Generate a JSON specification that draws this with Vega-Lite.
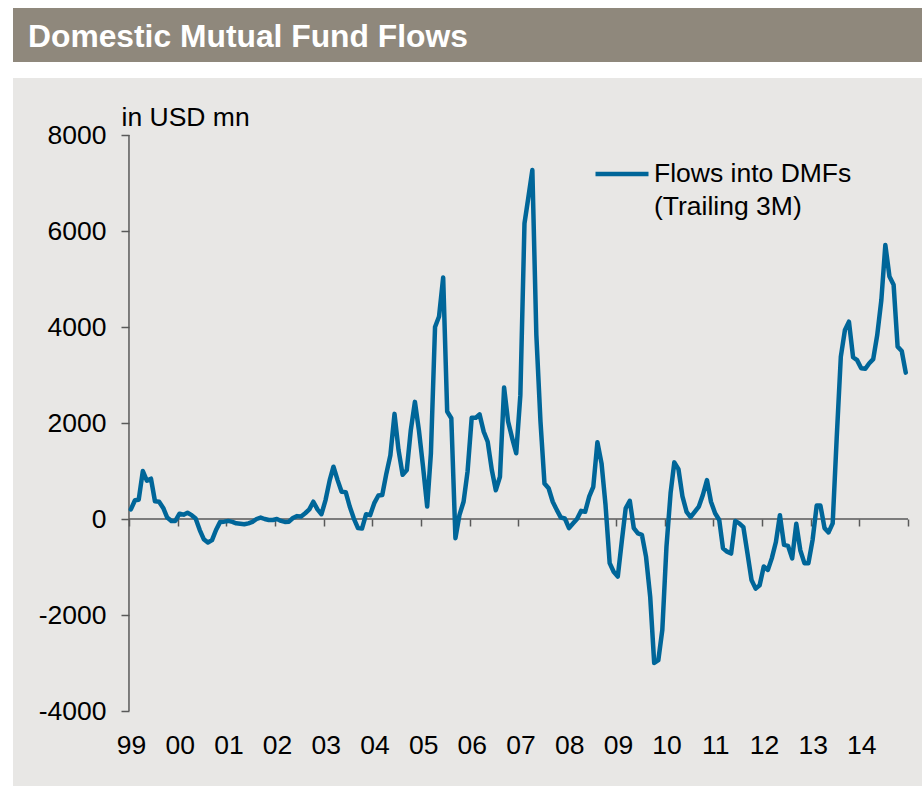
{
  "$schema": "https://vega.github.io/schema/vega-lite/v6.json",
  "background": "white",
  "padding": {"left": 13, "top": 8, "right": 0, "bottom": 0},
  "spacing": 16,
  "config": {
    "view": {"stroke": null},
    "font": "Liberation Sans",
    "style": {"guide-label": {"lineHeight": 33}}
  },
  "vconcat": [
    {
      "width": 909,
      "height": 54,
      "view": {"fill": "#8f887c", "stroke": null},
      "data": {"values": [{"heading": "Domestic Mutual Fund Flows"}]},
      "mark": {
        "type": "text",
        "align": "left",
        "baseline": "alphabetic",
        "dx": -439.5,
        "dy": 12,
        "color": "white",
        "font": "Liberation Sans",
        "fontSize": 31.8,
        "fontWeight": "bold"
      },
      "encoding": {"text": {"field": "heading", "type": "nominal"}}
    },
    {
      "width": 909,
      "height": 708,
      "view": {"fill": "#e8e7e5", "stroke": null},
      "resolve": {"axis": {"x": "independent", "y": "independent"}},
      "data": {
        "values": [
          {"m": "1999-01-15", "v": 200}, {"m": "1999-02-15", "v": 390}, {"m": "1999-03-15", "v": 400}, {"m": "1999-04-15", "v": 1000},
          {"m": "1999-05-15", "v": 800}, {"m": "1999-06-15", "v": 840}, {"m": "1999-07-15", "v": 370}, {"m": "1999-08-15", "v": 360},
          {"m": "1999-09-15", "v": 230}, {"m": "1999-10-15", "v": 30}, {"m": "1999-11-15", "v": -40}, {"m": "1999-12-15", "v": -40},
          {"m": "2000-01-15", "v": 110}, {"m": "2000-02-15", "v": 90}, {"m": "2000-03-15", "v": 130}, {"m": "2000-04-15", "v": 80},
          {"m": "2000-05-15", "v": 10}, {"m": "2000-06-15", "v": -230}, {"m": "2000-07-15", "v": -420}, {"m": "2000-08-15", "v": -490},
          {"m": "2000-09-15", "v": -440}, {"m": "2000-10-15", "v": -230}, {"m": "2000-11-15", "v": -60}, {"m": "2000-12-15", "v": -55},
          {"m": "2001-01-15", "v": -40}, {"m": "2001-02-15", "v": -60}, {"m": "2001-03-15", "v": -90}, {"m": "2001-04-15", "v": -100},
          {"m": "2001-05-15", "v": -110}, {"m": "2001-06-15", "v": -90}, {"m": "2001-07-15", "v": -60}, {"m": "2001-08-15", "v": 0},
          {"m": "2001-09-15", "v": 30}, {"m": "2001-10-15", "v": 0}, {"m": "2001-11-15", "v": -20}, {"m": "2001-12-15", "v": -20},
          {"m": "2002-01-15", "v": 0}, {"m": "2002-02-15", "v": -40}, {"m": "2002-03-15", "v": -60}, {"m": "2002-04-15", "v": -55},
          {"m": "2002-05-15", "v": 20}, {"m": "2002-06-15", "v": 60}, {"m": "2002-07-15", "v": 50}, {"m": "2002-08-15", "v": 120},
          {"m": "2002-09-15", "v": 200}, {"m": "2002-10-15", "v": 360}, {"m": "2002-11-15", "v": 200}, {"m": "2002-12-15", "v": 100},
          {"m": "2003-01-15", "v": 400}, {"m": "2003-02-15", "v": 810}, {"m": "2003-03-15", "v": 1090}, {"m": "2003-04-15", "v": 810},
          {"m": "2003-05-15", "v": 570}, {"m": "2003-06-15", "v": 560}, {"m": "2003-07-15", "v": 260}, {"m": "2003-08-15", "v": 10},
          {"m": "2003-09-15", "v": -190}, {"m": "2003-10-15", "v": -200}, {"m": "2003-11-15", "v": 100}, {"m": "2003-12-15", "v": 80},
          {"m": "2004-01-15", "v": 330}, {"m": "2004-02-15", "v": 490}, {"m": "2004-03-15", "v": 500}, {"m": "2004-04-15", "v": 950},
          {"m": "2004-05-15", "v": 1330}, {"m": "2004-06-15", "v": 2190}, {"m": "2004-07-15", "v": 1440}, {"m": "2004-08-15", "v": 920},
          {"m": "2004-09-15", "v": 1020}, {"m": "2004-10-15", "v": 1850}, {"m": "2004-11-15", "v": 2440}, {"m": "2004-12-15", "v": 1850},
          {"m": "2005-01-15", "v": 1090}, {"m": "2005-02-15", "v": 260}, {"m": "2005-03-15", "v": 1370}, {"m": "2005-04-15", "v": 4000},
          {"m": "2005-05-15", "v": 4220}, {"m": "2005-06-15", "v": 5030}, {"m": "2005-07-15", "v": 2240}, {"m": "2005-08-15", "v": 2100},
          {"m": "2005-09-15", "v": -400}, {"m": "2005-10-15", "v": 80}, {"m": "2005-11-15", "v": 360}, {"m": "2005-12-15", "v": 990},
          {"m": "2006-01-15", "v": 2110}, {"m": "2006-02-15", "v": 2110}, {"m": "2006-03-15", "v": 2180}, {"m": "2006-04-15", "v": 1820},
          {"m": "2006-05-15", "v": 1610}, {"m": "2006-06-15", "v": 1020}, {"m": "2006-07-15", "v": 600}, {"m": "2006-08-15", "v": 880},
          {"m": "2006-09-15", "v": 2740}, {"m": "2006-10-15", "v": 2030}, {"m": "2006-11-15", "v": 1680}, {"m": "2006-12-15", "v": 1370},
          {"m": "2007-01-15", "v": 2580}, {"m": "2007-02-15", "v": 6160}, {"m": "2007-03-15", "v": 6680}, {"m": "2007-04-15", "v": 7270},
          {"m": "2007-05-15", "v": 3830}, {"m": "2007-06-15", "v": 2030}, {"m": "2007-07-15", "v": 740}, {"m": "2007-08-15", "v": 640},
          {"m": "2007-09-15", "v": 360}, {"m": "2007-10-15", "v": 190}, {"m": "2007-11-15", "v": 30}, {"m": "2007-12-15", "v": 10},
          {"m": "2008-01-15", "v": -190}, {"m": "2008-02-15", "v": -90}, {"m": "2008-03-15", "v": 0}, {"m": "2008-04-15", "v": 170},
          {"m": "2008-05-15", "v": 150}, {"m": "2008-06-15", "v": 470}, {"m": "2008-07-15", "v": 670}, {"m": "2008-08-15", "v": 1600},
          {"m": "2008-09-15", "v": 1160}, {"m": "2008-10-15", "v": 290}, {"m": "2008-11-15", "v": -920}, {"m": "2008-12-15", "v": -1100},
          {"m": "2009-01-15", "v": -1200}, {"m": "2009-02-15", "v": -440}, {"m": "2009-03-15", "v": 220}, {"m": "2009-04-15", "v": 380},
          {"m": "2009-05-15", "v": -190}, {"m": "2009-06-15", "v": -300}, {"m": "2009-07-15", "v": -330}, {"m": "2009-08-15", "v": -790},
          {"m": "2009-09-15", "v": -1620}, {"m": "2009-10-15", "v": -3000}, {"m": "2009-11-15", "v": -2940}, {"m": "2009-12-15", "v": -2310},
          {"m": "2010-01-15", "v": -580}, {"m": "2010-02-15", "v": 540}, {"m": "2010-03-15", "v": 1180}, {"m": "2010-04-15", "v": 1040},
          {"m": "2010-05-15", "v": 470}, {"m": "2010-06-15", "v": 150}, {"m": "2010-07-15", "v": 40}, {"m": "2010-08-15", "v": 150},
          {"m": "2010-09-15", "v": 260}, {"m": "2010-10-15", "v": 500}, {"m": "2010-11-15", "v": 810}, {"m": "2010-12-15", "v": 360},
          {"m": "2011-01-15", "v": 120}, {"m": "2011-02-15", "v": -20}, {"m": "2011-03-15", "v": -610}, {"m": "2011-04-15", "v": -680},
          {"m": "2011-05-15", "v": -720}, {"m": "2011-06-15", "v": -40}, {"m": "2011-07-15", "v": -90}, {"m": "2011-08-15", "v": -170},
          {"m": "2011-09-15", "v": -720}, {"m": "2011-10-15", "v": -1270}, {"m": "2011-11-15", "v": -1450}, {"m": "2011-12-15", "v": -1380},
          {"m": "2012-01-15", "v": -990}, {"m": "2012-02-15", "v": -1060}, {"m": "2012-03-15", "v": -820}, {"m": "2012-04-15", "v": -480},
          {"m": "2012-05-15", "v": 80}, {"m": "2012-06-15", "v": -540}, {"m": "2012-07-15", "v": -560}, {"m": "2012-08-15", "v": -820},
          {"m": "2012-09-15", "v": -100}, {"m": "2012-10-15", "v": -650}, {"m": "2012-11-15", "v": -920}, {"m": "2012-12-15", "v": -920},
          {"m": "2013-01-15", "v": -440}, {"m": "2013-02-15", "v": 280}, {"m": "2013-03-15", "v": 280}, {"m": "2013-04-15", "v": -190},
          {"m": "2013-05-15", "v": -280}, {"m": "2013-06-15", "v": -90}, {"m": "2013-07-15", "v": 1680}, {"m": "2013-08-15", "v": 3380},
          {"m": "2013-09-15", "v": 3940}, {"m": "2013-10-15", "v": 4110}, {"m": "2013-11-15", "v": 3370}, {"m": "2013-12-15", "v": 3310},
          {"m": "2014-01-15", "v": 3140}, {"m": "2014-02-15", "v": 3130}, {"m": "2014-03-15", "v": 3240}, {"m": "2014-04-15", "v": 3330},
          {"m": "2014-05-15", "v": 3830}, {"m": "2014-06-15", "v": 4560}, {"m": "2014-07-15", "v": 5710}, {"m": "2014-08-15", "v": 5050},
          {"m": "2014-09-15", "v": 4880}, {"m": "2014-10-15", "v": 3590}, {"m": "2014-11-15", "v": 3500}, {"m": "2014-12-15", "v": 3050}
        ]
      },
      "layer": [
        {
          "data": {"values": [{}]},
          "mark": {"type": "rule", "color": "#595959", "strokeWidth": 1.5},
          "encoding": {
            "x": {"datum": {"year": 1999, "month": 1, "date": 1, "utc": true}, "type": "temporal",
                  "scale": {"type": "utc", "nice": false, "domain": [{"year": 1996, "month": 8, "date": 14, "utc": true}, {"year": 2015, "month": 4, "date": 16, "utc": true}]},
                  "axis": null},
            "y": {"datum": -4000, "type": "quantitative", "scale": {"domain": [-5562.5, 9187.5], "nice": false, "zero": false}, "axis": null},
            "y2": {"datum": 8000}
          }
        },
        {
          "data": {"values": [{}]},
          "mark": {"type": "rule", "color": "#595959", "strokeWidth": 1.5},
          "encoding": {
            "x": {"datum": {"year": 1999, "month": 1, "date": 1, "utc": true}, "type": "temporal",
                  "scale": {"type": "utc", "nice": false, "domain": [{"year": 1996, "month": 8, "date": 14, "utc": true}, {"year": 2015, "month": 4, "date": 16, "utc": true}]},
                  "axis": null},
            "x2": {"datum": {"year": 2015, "month": 1, "date": 1, "utc": true}},
            "y": {"datum": 0, "type": "quantitative", "scale": {"domain": [-5562.5, 9187.5], "nice": false, "zero": false}, "axis": null}
          }
        },
        {
          "mark": {"type": "line", "strokeWidth": 4.5, "strokeJoin": "round", "strokeCap": "round"},
          "encoding": {
            "x": {
              "field": "m",
              "type": "temporal",
              "scale": {"type": "utc", "nice": false, "domain": [{"year": 1996, "month": 8, "date": 14, "utc": true}, {"year": 2015, "month": 4, "date": 16, "utc": true}]},
              "axis": {
                "orient": "bottom",
                "offset": -267,
                "title": null,
                "domain": false,
                "grid": false,
                "values": [
                  {"year": 1999, "month": 1, "date": 1, "utc": true}, {"year": 2000, "month": 1, "date": 1, "utc": true},
                  {"year": 2001, "month": 1, "date": 1, "utc": true}, {"year": 2002, "month": 1, "date": 1, "utc": true},
                  {"year": 2003, "month": 1, "date": 1, "utc": true}, {"year": 2004, "month": 1, "date": 1, "utc": true},
                  {"year": 2005, "month": 1, "date": 1, "utc": true}, {"year": 2006, "month": 1, "date": 1, "utc": true},
                  {"year": 2007, "month": 1, "date": 1, "utc": true}, {"year": 2008, "month": 1, "date": 1, "utc": true},
                  {"year": 2009, "month": 1, "date": 1, "utc": true}, {"year": 2010, "month": 1, "date": 1, "utc": true},
                  {"year": 2011, "month": 1, "date": 1, "utc": true}, {"year": 2012, "month": 1, "date": 1, "utc": true},
                  {"year": 2013, "month": 1, "date": 1, "utc": true}, {"year": 2014, "month": 1, "date": 1, "utc": true},
                  {"year": 2015, "month": 1, "date": 1, "utc": true}
                ],
                "labelExpr": "utcyear(datum.value) >= 2015 ? '' : utcFormat(datum.value, '%y')",
                "tickSize": 7,
                "tickWidth": 1.5,
                "tickColor": "#595959",
                "labelPadding": 227,
                "labelBaseline": "alphabetic",
                "labelOffset": 2,
                "labelFont": "Liberation Sans",
                "labelFontSize": 26.5,
                "labelColor": "black",
                "labelFlush": false,
                "labelOverlap": false
              }
            },
            "y": {
              "field": "v",
              "type": "quantitative",
              "scale": {"domain": [-5562.5, 9187.5], "nice": false, "zero": false},
              "axis": {
                "orient": "left",
                "offset": -116,
                "domain": false,
                "grid": false,
                "values": [-4000, -2000, 0, 2000, 4000, 6000, 8000],
                "labelExpr": "'' + datum.value",
                "tickSize": 8,
                "tickWidth": 1.5,
                "tickColor": "#595959",
                "labelPadding": 15,
                "labelFont": "Liberation Sans",
                "labelFontSize": 26.5,
                "labelColor": "black",
                "labelFlush": false,
                "labelOverlap": false,
                "title": "in USD mn",
                "titleAngle": 0,
                "titleAlign": "left",
                "titleBaseline": "alphabetic",
                "titleX": -8,
                "titleY": 47,
                "titleFont": "Liberation Sans",
                "titleFontSize": 26.5,
                "titleFontWeight": "normal",
                "titleColor": "black"
              }
            },
            "color": {
              "datum": "Flows into DMFs",
              "type": "nominal",
              "scale": {"range": ["#006699"]},
              "legend": {
                "orient": "none",
                "legendX": 580,
                "legendY": 137,
                "title": null,
                "padding": 0,
                "symbolType": "stroke",
                "symbolSize": 2809,
                "symbolStrokeWidth": 4.5,
                "labelOffset": 3,
                "labelFont": "Liberation Sans",
                "labelFontSize": 26.5,
                "labelColor": "black",
                "labelLimit": 400,
                "labelExpr": "['Flows into DMFs', '(Trailing 3M)']"
              }
            }
          }
        }
      ]
    }
  ]
}
